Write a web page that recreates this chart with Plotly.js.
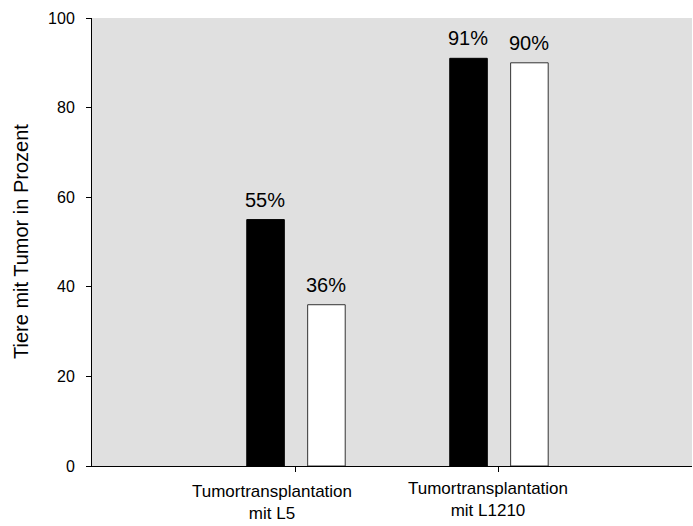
<!DOCTYPE html>
<html>
<head>
<meta charset="utf-8">
<script src="https://cdn.plot.ly/plotly-3.0.1.min.js"></script>
<style>html,body{margin:0;padding:0;background:#fff;}</style>
</head>
<body>
<div id="chart" style="width:693px;height:526px;"></div>
<script>
const categories = ["L5", "L1210"];
const categoryLabels = ["Tumortransplantation<br>mit L5", "Tumortransplantation<br>mit L1210"];
const seriesBlack = [55, 91];
const seriesWhite = [36, 90];
const yAxisTitle = "Tiere mit Tumor in Prozent";
const yTicks = [0, 20, 40, 60, 80, 100];

const FONT = "Liberation Sans, Arial, sans-serif";

const traces = [
  {
    type: "bar", x: categories, y: seriesBlack,
    width: 0.185, offset: -0.2425,
    marker: {color: "#000000", line: {color: "#000000", width: 1}},
    hoverinfo: "none", showlegend: false
  },
  {
    type: "bar", x: categories, y: seriesWhite,
    width: 0.185, offset: 0.0575,
    marker: {color: "#ffffff", line: {color: "#333333", width: 1}},
    hoverinfo: "none", showlegend: false
  }
];

const annotations = [];
const labelShift = [-24, -11];
const labelDrop = [-15, -12];
categories.forEach((c, i) => {
  annotations.push({x: c, y: seriesBlack[i], xref: "x", yref: "y", text: seriesBlack[i] + "%",
    showarrow: false, xanchor: "center", yanchor: "bottom", xshift: -30.5, yshift: 7,
    font: {family: FONT, size: 20, color: "#000"}});
  annotations.push({x: c, y: seriesWhite[i], xref: "x", yref: "y", text: seriesWhite[i] + "%",
    showarrow: false, xanchor: "center", yanchor: "bottom", xshift: 30.5, yshift: 7,
    font: {family: FONT, size: 20, color: "#000"}});
  annotations.push({x: c, y: 0, xref: "x", yref: "y", text: categoryLabels[i],
    showarrow: false, xanchor: "center", yanchor: "top", xshift: labelShift[i], yshift: labelDrop[i],
    borderpad: 0,
    font: {family: FONT, size: 17, color: "#000"}});
});
annotations.push({x: 0, y: 0.5, xref: "paper", yref: "paper", text: yAxisTitle, textangle: -90,
  showarrow: false, xanchor: "center", yanchor: "middle", xshift: -71,
  font: {family: FONT, size: 20, color: "#000"}});

const layout = {
  width: 693, height: 526,
  margin: {l: 92, r: 1, t: 18, b: 60, pad: 0},
  paper_bgcolor: "#ffffff",
  plot_bgcolor: "#e0e0e0",
  font: {family: FONT, color: "#000"},
  barmode: "overlay",
  xaxis: {
    type: "category", range: [-1.005, 1.951],
    showline: true, linecolor: "#000", linewidth: 1,
    ticks: "outside", ticklen: 5, tickcolor: "#000", tickwidth: 1,
    showticklabels: false, showgrid: false, zeroline: false, fixedrange: true
  },
  yaxis: {
    range: [0, 100], tickvals: yTicks,
    showline: true, linecolor: "#000", linewidth: 1,
    ticks: "outside", ticklen: 5, tickcolor: "#000", tickwidth: 1,
    tickfont: {family: FONT, size: 16, color: "#000"},
    ticklabelstandoff: 8,
    showgrid: false, zeroline: false, fixedrange: true
  },
  annotations: annotations
};

Plotly.newPlot("chart", traces, layout, {displayModeBar: false, staticPlot: true});
</script>
</body>
</html>
